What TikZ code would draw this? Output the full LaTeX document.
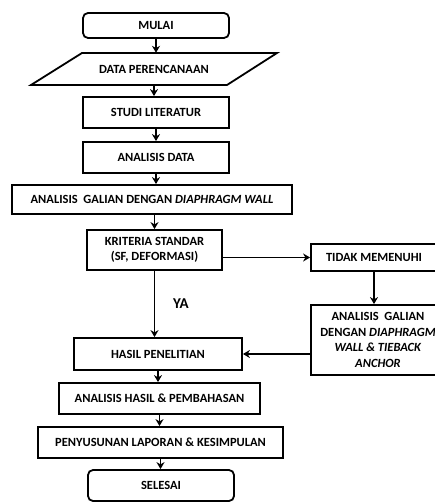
\documentclass[tikz,border=0pt]{standalone}
\usepackage{fontspec}
\setmainfont{Carlito}
\usetikzlibrary{arrows.meta}

\tikzset{
  kotak/.style={draw, line width=1.8pt, align=center, inner sep=2pt,
    font=\bfseries\fontsize{12.5}{15.5}\selectfont},
  bulat/.style={kotak, rounded corners=5pt},
  panah/.style={-{Stealth[length=7pt,width=8pt]}, line width=1.8pt}
}

\begin{document}
\begin{tikzpicture}[x=1pt, y=-1pt]
		% Batas gambar
			\clip (0,0) rectangle (435,502);
	
		% Kolom utama
			\node[bulat, minimum width=146pt, minimum height=25pt] (mulai) at (156,25.5) {MULAI};
			\draw[line width=1.8pt] (82,53) -- (277,53) -- (227,85) -- (31,85) -- cycle;
			\node[font=\bfseries\fontsize{12.5}{15.5}\selectfont, minimum height=32pt] (data) at (154,69) {DATA PERENCANAAN};
			\node[kotak, minimum width=146pt, minimum height=31pt] (studi) at (156,112.5) {STUDI LITERATUR};
			\node[kotak, minimum width=146pt, minimum height=31pt] (analisis) at (156,157.5) {ANALISIS DATA};
			\node[kotak, minimum width=280pt, minimum height=29pt] (galian) at (152,199.5) {ANALISIS~~GALIAN DENGAN \textit{DIAPHRAGM WALL}};
			\node[kotak, minimum width=135pt, minimum height=40pt] (kriteria) at (154.5,250) {KRITERIA STANDAR\\(SF, DEFORMASI)};
			\node[kotak, minimum width=168pt, minimum height=32pt] (hasil) at (158,354) {HASIL PENELITIAN};
			\node[kotak, minimum width=201pt, minimum height=31pt] (bahas) at (159.5,398.5) {ANALISIS HASIL \& PEMBAHASAN};
			\node[kotak, minimum width=245pt, minimum height=31pt] (susun) at (160.5,442.5) {PENYUSUNAN LAPORAN \& KESIMPULAN};
			\node[bulat, minimum width=146pt, minimum height=31pt] (selesai) at (161,485.5) {SELESAI};
	
		% Cabang kanan
			\node[kotak, minimum width=126pt, minimum height=27pt] (tidak) at (374,257.5) {TIDAK MEMENUHI};
			\node[kotak, minimum width=134pt, minimum height=70pt] (solusi) at (378,340) {ANALISIS~~GALIAN\\DENGAN \textit{DIAPHRAGM}\\\textit{WALL \& TIEBACK}\\\textit{ANCHOR}};
			\node[font=\bfseries\fontsize{15}{17}\selectfont] (ya) at (181,304) {YA};
	
		% Panah
			\draw[panah] (mulai.south) -- (mulai.south |- data.north);
			\draw[panah] (data.south) -- (data.south |- studi.north);
			\draw[panah] (studi.south) -- (studi.south |- analisis.north);
			\draw[panah] (analisis.south) -- (analisis.south |- galian.north);
			\draw[panah] (kriteria.north |- galian.south) -- (kriteria.north);
			\draw[panah] (kriteria.south) -- (kriteria.south |- hasil.north);
			\draw[panah] (hasil.south) -- (hasil.south |- bahas.north);
			\draw[panah] (bahas.south) -- (bahas.south |- susun.north);
			\draw[panah] (susun.south) -- (susun.south |- selesai.north);
			\draw[panah] (kriteria.east |- tidak.west) -- (tidak.west);
			\draw[panah] (tidak.south) -- (tidak.south |- solusi.north);
			\draw[panah] (solusi.west |- hasil.east) -- (hasil.east);
	\end{tikzpicture}
\end{document}
